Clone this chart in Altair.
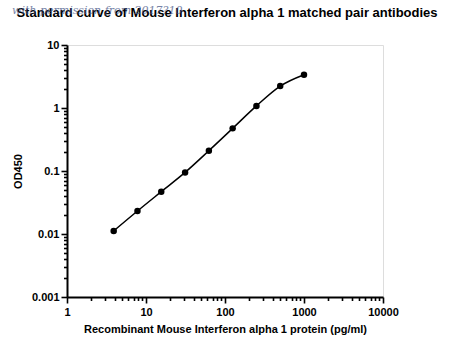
import altair as alt
import pandas as pd

conc = [3.9, 7.8, 15.6, 31.25, 62.5, 125, 250, 500, 1000]
od = [0.0112, 0.0232, 0.047, 0.095, 0.21, 0.475, 1.08, 2.23, 3.38]

x_ticks = [m * d for d in [1, 10, 100, 1000] for m in range(1, 10)] + [10000]
y_ticks = [m * d for d in [0.001, 0.01, 0.1, 1] for m in range(1, 10)] + [10]

title_text = "Standard curve of Mouse Interferon alpha 1 matched pair antibodies"
watermark_text = "with permission from 2017?10"

df = pd.DataFrame({"conc": conc, "od": od})

FONT = "Liberation Sans"
IS_MAJOR = "abs(log(datum.value)/LN10 - round(log(datum.value)/LN10)) < 1e-6"

xscale = alt.Scale(type="log", domain=[1, 10000], nice=False)
yscale = alt.Scale(type="log", domain=[0.001, 10], nice=False)

tick_size = {"condition": {"test": IS_MAJOR, "value": 6}, "value": 3.5}

xaxis = alt.Axis(values=x_ticks, labelExpr=IS_MAJOR + " ? format(datum.value, '~g') : ''",
                 orient="bottom", tickSize=tick_size, tickWidth=1.6,
                 domainWidth=2, domainColor="black", tickColor="black", grid=False,
                 labelFont=FONT, labelFontWeight="bold", labelFontSize=11, labelColor="black",
                 labelPadding=3, title="Recombinant Mouse Interferon alpha 1 protein (pg/ml)",
                 titleFont=FONT, titleFontWeight="bold", titleFontSize=11, titleColor="black",
                 titlePadding=6, labelFlush=False, labelOverlap=False)
yaxis = alt.Axis(values=y_ticks, labelExpr=IS_MAJOR + " ? format(datum.value, '~g') : ''",
                 orient="left", tickSize=tick_size, tickWidth=1.6,
                 domainWidth=2, domainColor="black", tickColor="black", grid=False,
                 labelFont=FONT, labelFontWeight="bold", labelFontSize=11, labelColor="black",
                 labelPadding=2, title="OD450", titleFont=FONT, titleFontWeight="bold",
                 titleFontSize=11, titleColor="black", titlePadding=8, labelFlush=False,
                 labelOverlap=False)

line = alt.Chart(df).mark_line(color="black", strokeWidth=1.5, interpolate="monotone").encode(
    x=alt.X("conc:Q", scale=xscale, axis=xaxis),
    y=alt.Y("od:Q", scale=yscale, axis=yaxis),
)
pts = alt.Chart(df).mark_circle(color="black", size=42, opacity=1).encode(
    x=alt.X("conc:Q", scale=xscale),
    y=alt.Y("od:Q", scale=yscale),
)

title = alt.Chart(pd.DataFrame({"t": [title_text]})).mark_text(
    align="center", baseline="middle", font=FONT, fontSize=13, fontWeight="bold", color="black"
).encode(x=alt.value(160), y=alt.value(-32), text="t:N")

wm = alt.Chart(pd.DataFrame({"t": [watermark_text]})).mark_text(
    align="left", baseline="middle", font="DejaVu Serif", fontStyle="italic", fontSize=11,
    color="#4a5a8a", opacity=0.75
).encode(x=alt.value(-55), y=alt.value(-34), text="t:N")

chart = alt.layer(line, pts, title, wm).properties(
    width=316, height=252,
    autosize=alt.AutoSizeParams(type="none"),
    padding={"left": 67, "top": 45, "right": 67, "bottom": 54},
).configure_view(stroke=None).configure(background="white")

chart.save("out.html", embed_options={"renderer": "svg", "actions": False})
